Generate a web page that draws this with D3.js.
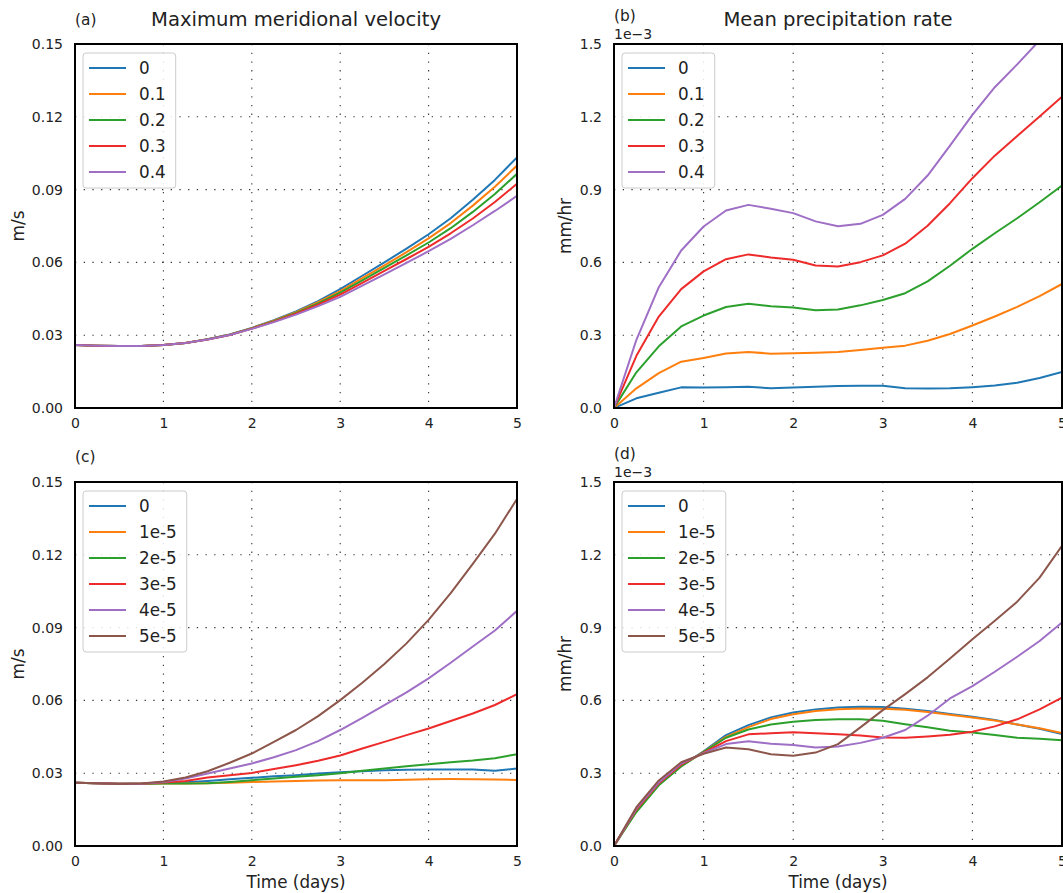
<!DOCTYPE html>
<html>
<head>
<meta charset="utf-8">
<title>Velocity and precipitation</title>
<script src="https://cdn.jsdelivr.net/npm/d3@7"></script>
<style>
  body { margin: 0; background: #fff; }
  svg text { font-family: "DejaVu Sans", sans-serif; fill: #222; }
  .grid line { stroke: #333; stroke-width: 1.1; stroke-dasharray: 1.3, 7.4; }
</style>
</head>
<body>
<svg id="fig" width="1063" height="893"></svg>
<script>
// time axis, quarter-day output
var days = [0, 0.25, 0.5, 0.75, 1, 1.25, 1.5, 1.75, 2, 2.25, 2.5, 2.75, 3, 3.25, 3.5, 3.75, 4, 4.25, 4.5, 4.75, 5];

// (a) max meridional velocity (m/s), one series per legend entry
var labelsA = ['0', '0.1', '0.2', '0.3', '0.4'];
var velA0 = [0.0260, 0.0257, 0.0255, 0.0255, 0.0260, 0.0268, 0.0283, 0.0303, 0.0330, 0.0362, 0.0398, 0.0440, 0.0490, 0.0545, 0.0600, 0.0657, 0.0716, 0.0782, 0.0858, 0.0940, 0.1033];
var velA1 = [0.0260, 0.0257, 0.0255, 0.0255, 0.0260, 0.0268, 0.0283, 0.0302, 0.0329, 0.0360, 0.0395, 0.0436, 0.0482, 0.0535, 0.0588, 0.0642, 0.0699, 0.0762, 0.0834, 0.0912, 0.0999];
var velA2 = [0.0260, 0.0257, 0.0255, 0.0255, 0.0260, 0.0268, 0.0283, 0.0302, 0.0328, 0.0358, 0.0392, 0.0431, 0.0475, 0.0526, 0.0577, 0.0629, 0.0682, 0.0741, 0.0808, 0.0882, 0.0965];
var velA3 = [0.0260, 0.0257, 0.0255, 0.0255, 0.0260, 0.0268, 0.0282, 0.0301, 0.0327, 0.0356, 0.0389, 0.0426, 0.0467, 0.0516, 0.0565, 0.0614, 0.0664, 0.0720, 0.0781, 0.0849, 0.0924];
var velA4 = [0.0260, 0.0257, 0.0255, 0.0255, 0.0260, 0.0268, 0.0282, 0.0301, 0.0326, 0.0354, 0.0385, 0.0420, 0.0458, 0.0504, 0.0551, 0.0598, 0.0646, 0.0697, 0.0753, 0.0812, 0.0874];

// (b) mean precipitation rate, in units of 1e-3 mm/hr
var precB0 = [0, 0.040, 0.063, 0.085, 0.084, 0.085, 0.088, 0.081, 0.084, 0.088, 0.091, 0.092, 0.092, 0.081, 0.080, 0.081, 0.086, 0.093, 0.104, 0.124, 0.148];
var precB1 = [0, 0.081, 0.144, 0.191, 0.206, 0.225, 0.231, 0.224, 0.226, 0.228, 0.231, 0.239, 0.248, 0.257, 0.277, 0.305, 0.340, 0.377, 0.417, 0.461, 0.511];
var precB2 = [0, 0.147, 0.254, 0.336, 0.381, 0.416, 0.430, 0.419, 0.414, 0.403, 0.406, 0.423, 0.445, 0.473, 0.522, 0.586, 0.656, 0.720, 0.782, 0.848, 0.917];
var precB3 = [0, 0.215, 0.377, 0.490, 0.563, 0.613, 0.633, 0.620, 0.611, 0.587, 0.583, 0.601, 0.629, 0.677, 0.751, 0.844, 0.947, 1.040, 1.121, 1.201, 1.283];
var precB4 = [0, 0.281, 0.498, 0.649, 0.748, 0.814, 0.837, 0.821, 0.803, 0.769, 0.749, 0.759, 0.796, 0.862, 0.958, 1.081, 1.208, 1.322, 1.416, 1.515, 1.610];

// (c) max meridional velocity (m/s)
var labelsC = ['0', '1e-5', '2e-5', '3e-5', '4e-5', '5e-5'];
var velC0 = [0.0261, 0.0259, 0.0257, 0.0257, 0.0260, 0.0263, 0.0268, 0.0275, 0.0281, 0.0287, 0.0292, 0.0299, 0.0304, 0.0308, 0.0312, 0.0314, 0.0315, 0.0315, 0.0315, 0.0310, 0.0319];
var velC1 = [0.0261, 0.0259, 0.0257, 0.0257, 0.0258, 0.0258, 0.0259, 0.0261, 0.0264, 0.0266, 0.0268, 0.0270, 0.0271, 0.0271, 0.0271, 0.0273, 0.0275, 0.0276, 0.0275, 0.0274, 0.0272];
var velC2 = [0.0261, 0.0259, 0.0257, 0.0257, 0.0258, 0.0258, 0.0259, 0.0264, 0.0271, 0.0278, 0.0285, 0.0292, 0.0300, 0.0310, 0.0319, 0.0329, 0.0337, 0.0345, 0.0352, 0.0362, 0.0378];
var velC3 = [0.0261, 0.0259, 0.0257, 0.0257, 0.0262, 0.0268, 0.0282, 0.0292, 0.0301, 0.0317, 0.0333, 0.0351, 0.0373, 0.0402, 0.0429, 0.0457, 0.0484, 0.0515, 0.0546, 0.0581, 0.0626];
var velC4 = [0.0261, 0.0259, 0.0257, 0.0257, 0.0264, 0.0278, 0.0299, 0.0319, 0.0340, 0.0366, 0.0395, 0.0432, 0.0478, 0.0528, 0.0581, 0.0633, 0.0691, 0.0755, 0.0822, 0.0888, 0.0969];
var velC5 = [0.0261, 0.0259, 0.0255, 0.0258, 0.0266, 0.0282, 0.0308, 0.0343, 0.0381, 0.0429, 0.0478, 0.0535, 0.0601, 0.0673, 0.0750, 0.0835, 0.0932, 0.1042, 0.1163, 0.1287, 0.1430];

// (d) mean precipitation rate, 1e-3 mm/hr
var precD0 = [0, 0.150, 0.255, 0.330, 0.390, 0.457, 0.498, 0.530, 0.550, 0.563, 0.571, 0.574, 0.573, 0.566, 0.556, 0.544, 0.533, 0.519, 0.501, 0.483, 0.461];
var precD1 = [0, 0.150, 0.255, 0.330, 0.388, 0.450, 0.490, 0.523, 0.543, 0.556, 0.564, 0.567, 0.566, 0.561, 0.552, 0.541, 0.530, 0.517, 0.501, 0.485, 0.466];
var precD2 = [0, 0.140, 0.250, 0.328, 0.388, 0.446, 0.480, 0.501, 0.512, 0.519, 0.522, 0.522, 0.516, 0.502, 0.489, 0.475, 0.468, 0.457, 0.446, 0.442, 0.436];
var precD3 = [0, 0.150, 0.258, 0.335, 0.385, 0.432, 0.460, 0.465, 0.469, 0.465, 0.461, 0.455, 0.447, 0.446, 0.451, 0.458, 0.471, 0.493, 0.522, 0.563, 0.611];
var precD4 = [0, 0.155, 0.262, 0.340, 0.383, 0.420, 0.432, 0.421, 0.416, 0.406, 0.410, 0.425, 0.446, 0.478, 0.537, 0.608, 0.659, 0.718, 0.780, 0.845, 0.921];
var precD5 = [0, 0.160, 0.270, 0.345, 0.380, 0.406, 0.399, 0.378, 0.372, 0.385, 0.420, 0.489, 0.560, 0.626, 0.695, 0.773, 0.852, 0.928, 1.007, 1.106, 1.237];

var xTicks = [0, 1, 2, 3, 4, 5];
var velTicks = [0, 0.03, 0.06, 0.09, 0.12, 0.15];
var precTicks = [0, 0.3, 0.6, 0.9, 1.2, 1.5];

var colors = ['#1f77b4', '#ff7f0e', '#2ca02c', '#ee2b2b', '#9f6fc6', '#8c564b'];

var svg = d3.select('#fig');

function drawPanel(p) {
  var x = d3.scaleLinear().domain([0, 5]).range([p.left, p.right]);
  var y = d3.scaleLinear().domain([p.yTicks[0], p.yTicks[p.yTicks.length - 1]]).range([p.bottom, p.top]);
  var g = svg.append('g');

  // dotted grid on the inner ticks
  var grid = g.append('g').attr('class', 'grid');
  grid.selectAll('.gx').data(xTicks.slice(1, -1)).enter().append('line')
    .attr('x1', d => x(d)).attr('x2', d => x(d))
    .attr('y1', p.top).attr('y2', p.bottom);
  grid.selectAll('.gy').data(p.yTicks.slice(1, -1)).enter().append('line')
    .attr('x1', p.left).attr('x2', p.right)
    .attr('y1', d => y(d)).attr('y2', d => y(d));

  // series, clipped to the axes box
  g.append('clipPath').attr('id', 'clip' + p.id)
    .append('rect')
    .attr('x', p.left).attr('y', p.top)
    .attr('width', p.right - p.left).attr('height', p.bottom - p.top);

  var line = d3.line().x((d, i) => x(days[i])).y(d => y(d));
  g.append('g').attr('clip-path', 'url(#clip' + p.id + ')')
    .selectAll('path').data(p.series).enter().append('path')
    .attr('d', line)
    .attr('fill', 'none')
    .attr('stroke', (d, i) => colors[i])
    .attr('stroke-width', 2)
    .attr('stroke-linejoin', 'round');

  // axes
  var ax = g.append('g').attr('transform', 'translate(0,' + p.bottom + ')')
    .call(d3.axisBottom(x).tickValues(xTicks).tickFormat(d3.format('d')).tickSize(0).tickPadding(10));
  var ay = g.append('g').attr('transform', 'translate(' + p.left + ',0)')
    .call(d3.axisLeft(y).tickValues(p.yTicks).tickFormat(d3.format(p.fmt)).tickSize(0).tickPadding(12));
  [ax, ay].forEach(a => {
    a.select('.domain').remove();
    a.attr('font-family', null).attr('font-size', null);
    a.selectAll('text').style('font-size', '14px').attr('fill', '#222');
  });

  // frame
  g.append('rect')
    .attr('x', p.left).attr('y', p.top)
    .attr('width', p.right - p.left).attr('height', p.bottom - p.top)
    .attr('fill', 'none').attr('stroke', '#000').attr('stroke-width', 2);

  // legend
  var lg = g.append('g').attr('transform', 'translate(' + (p.left + 8) + ',' + (p.top + 9) + ')');
  var box = lg.append('rect')
    .attr('rx', 3).attr('ry', 3)
    .attr('fill', 'rgba(255,255,255,0.85)')
    .attr('stroke', '#ccc').attr('stroke-width', 1);
  var maxW = 0;
  p.labels.forEach((lab, i) => {
    var yy = 15 + i * 26;
    lg.append('line')
      .attr('x1', 6).attr('x2', 43).attr('y1', yy).attr('y2', yy)
      .attr('stroke', colors[i]).attr('stroke-width', 2);
    var t = lg.append('text')
      .attr('x', 56).attr('y', yy).attr('dy', '0.36em')
      .style('font-size', '16.8px')
      .text(lab);
    maxW = Math.max(maxW, t.node().getComputedTextLength());
  });
  box.attr('width', 56 + maxW + 10).attr('height', 15 + (p.labels.length - 1) * 26 + 16);

  // panel letter, title, labels
  g.append('text').attr('x', p.left).attr('y', p.letterY)
    .style('font-size', '15.4px').text(p.letter);
  if (p.title) {
    g.append('text').attr('x', (p.left + p.right) / 2).attr('y', p.top - 18)
      .attr('text-anchor', 'middle').style('font-size', '19.6px').text(p.title);
  }
  if (p.offset) {
    g.append('text').attr('x', p.left).attr('y', p.top - 5)
      .style('font-size', '14px').text(p.offset);
  }
  g.append('text')
    .attr('transform', 'translate(' + (p.left - p.ylabelGap) + ',' + ((p.top + p.bottom) / 2) + ') rotate(-90)')
    .attr('text-anchor', 'middle').attr('dy', '0.35em')
    .style('font-size', '16.8px').text(p.ylabel);
  if (p.xlabel) {
    g.append('text').attr('x', (p.left + p.right) / 2).attr('y', p.bottom + 42)
      .attr('text-anchor', 'middle').style('font-size', '16.8px').text(p.xlabel);
  }
}

drawPanel({
  id: 'a', left: 75, right: 517, top: 44, bottom: 408,
  series: [velA0, velA1, velA2, velA3, velA4], labels: labelsA,
  yTicks: velTicks, fmt: '.2f', ylabel: 'm/s', ylabelGap: 57,
  letter: '(a)', letterY: 25, title: 'Maximum meridional velocity'
});
drawPanel({
  id: 'b', left: 614, right: 1062, top: 44, bottom: 408,
  series: [precB0, precB1, precB2, precB3, precB4], labels: labelsA,
  yTicks: precTicks, fmt: '.1f', ylabel: 'mm/hr', ylabelGap: 49, offset: '1e\u22123',
  letter: '(b)', letterY: 21, title: 'Mean precipitation rate'
});
drawPanel({
  id: 'c', left: 75, right: 517, top: 482, bottom: 846,
  series: [velC0, velC1, velC2, velC3, velC4, velC5], labels: labelsC,
  yTicks: velTicks, fmt: '.2f', ylabel: 'm/s', ylabelGap: 57,
  letter: '(c)', letterY: 462, xlabel: 'Time (days)'
});
drawPanel({
  id: 'd', left: 614, right: 1062, top: 482, bottom: 846,
  series: [precD0, precD1, precD2, precD3, precD4, precD5], labels: labelsC,
  yTicks: precTicks, fmt: '.1f', ylabel: 'mm/hr', ylabelGap: 49, offset: '1e\u22123',
  letter: '(d)', letterY: 459, xlabel: 'Time (days)'
});
</script>
</body>
</html>
